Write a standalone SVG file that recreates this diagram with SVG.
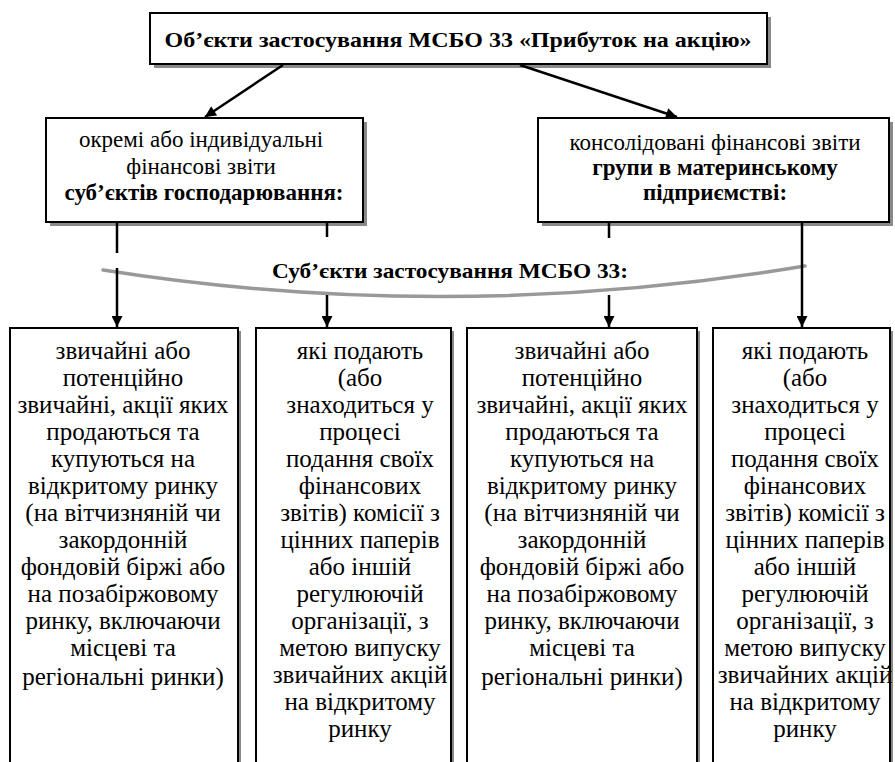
<svg xmlns="http://www.w3.org/2000/svg" width="895" height="762" viewBox="0 0 895 762">
<defs>
<style>
.box{fill:#fff;stroke:#000;stroke-width:2}
.sh{fill:#8a8a8a}
.t{font-family:"Liberation Serif","Tinos","DejaVu Serif",serif;fill:#000;text-anchor:middle}
.m{font-size:23px}
.s{font-size:25px}
.b{font-weight:bold}
.ln{stroke:#000;stroke-width:2.5;fill:none}
</style>
<marker id="ah" viewBox="0 0 10 10" refX="10" refY="5" markerWidth="5" markerHeight="4.4" markerUnits="strokeWidth" orient="auto">
<path d="M0,0 L10,5 L0,10 z" fill="#000"/>
</marker>
</defs>
<rect width="895" height="762" fill="#fff"/>

<g id="top">
<rect class="sh" x="154" y="17" width="617" height="51"/>
<rect class="box" x="150" y="13" width="617" height="51"/>
<text class="t b" x="458" y="47" style="font-size:22px" textLength="587" lengthAdjust="spacingAndGlyphs">Об’єкти застосування МСБО 33 «Прибуток на акцію»</text>
</g>

<g id="mid-left">
<rect class="sh" x="50" y="122" width="317" height="104"/>
<rect class="box" x="46" y="118" width="317" height="104"/>
<text class="t m" x="201" y="147">окремі або індивідуальні</text>
<text class="t m" x="201" y="174">фінансові звіти</text>
<text class="t m b" x="204" y="200">суб’єктів господарювання:</text>
</g>

<g id="mid-right">
<rect class="sh" x="542" y="122" width="351" height="104"/>
<rect class="box" x="538" y="118" width="351" height="104"/>
<text class="t m" x="715" y="150">консолідовані фінансові звіти</text>
<text class="t m b" x="715" y="175">групи в материнському</text>
<text class="t m b" x="715" y="200">підприємстві:</text>
</g>

<g id="banner">
<path d="M103,270 Q450,325 805,266" fill="none" stroke="#999" stroke-width="3.5" stroke-linecap="round"/>
<text class="t b" x="450" y="278" style="font-size:21px" textLength="356" lengthAdjust="spacingAndGlyphs">Суб’єкти застосування МСБО 33:</text>
</g>

<g id="box1">
<rect class="sh" x="13" y="331" width="228" height="440"/>
<rect class="box" x="10" y="328" width="228" height="440"/>
<text class="t s" x="123" y="359">звичайні або</text>
<text class="t s" x="123" y="386">потенційно</text>
<text class="t s" x="123" y="413">звичайні, акції яких</text>
<text class="t s" x="123" y="440">продаються та</text>
<text class="t s" x="123" y="467">купуються на</text>
<text class="t s" x="123" y="494">відкритому ринку</text>
<text class="t s" x="123" y="521">(на вітчизняній  чи</text>
<text class="t s" x="123" y="548">закордонній</text>
<text class="t s" x="123" y="575">фондовій біржі або</text>
<text class="t s" x="123" y="602">на позабіржовому</text>
<text class="t s" x="123" y="629">ринку, включаючи</text>
<text class="t s" x="123" y="656">місцеві та</text>
<text class="t s" x="123" y="685">регіональні ринки)</text>
</g>

<g id="box2">
<rect class="sh" x="259" y="331" width="195" height="440"/>
<rect class="box" x="256" y="328" width="195" height="440"/>
<text class="t s" x="360" y="359">які подають</text>
<text class="t s" x="360" y="386">(або</text>
<text class="t s" x="360" y="413">знаходиться у</text>
<text class="t s" x="360" y="440">процесі</text>
<text class="t s" x="360" y="467">подання своїх</text>
<text class="t s" x="360" y="494">фінансових</text>
<text class="t s" x="360" y="521">звітів) комісії з</text>
<text class="t s" x="360" y="548">цінних паперів</text>
<text class="t s" x="360" y="575">або іншій</text>
<text class="t s" x="360" y="602">регулюючій</text>
<text class="t s" x="360" y="629">організації, з</text>
<text class="t s" x="360" y="656">метою випуску</text>
<text class="t s" x="360" y="683">звичайних акцій</text>
<text class="t s" x="360" y="710">на відкритому</text>
<text class="t s" x="360" y="737">ринку</text>
</g>

<g id="box3">
<rect class="sh" x="470" y="331" width="230" height="440"/>
<rect class="box" x="467" y="328" width="230" height="440"/>
<text class="t s" x="582" y="359">звичайні або</text>
<text class="t s" x="582" y="386">потенційно</text>
<text class="t s" x="582" y="413">звичайні, акції яких</text>
<text class="t s" x="582" y="440">продаються та</text>
<text class="t s" x="582" y="467">купуються на</text>
<text class="t s" x="582" y="494">відкритому ринку</text>
<text class="t s" x="582" y="521">(на вітчизняній  чи</text>
<text class="t s" x="582" y="548">закордонній</text>
<text class="t s" x="582" y="575">фондовій біржі або</text>
<text class="t s" x="582" y="602">на позабіржовому</text>
<text class="t s" x="582" y="629">ринку, включаючи</text>
<text class="t s" x="582" y="656">місцеві та</text>
<text class="t s" x="582" y="685">регіональні ринки)</text>
</g>

<g id="box4">
<rect class="sh" x="716" y="331" width="177" height="440"/>
<rect class="box" x="713" y="328" width="177" height="440"/>
<text class="t s" x="805" y="359">які подають</text>
<text class="t s" x="805" y="386">(або</text>
<text class="t s" x="805" y="413">знаходиться у</text>
<text class="t s" x="805" y="440">процесі</text>
<text class="t s" x="805" y="467">подання своїх</text>
<text class="t s" x="805" y="494">фінансових</text>
<text class="t s" x="805" y="521">звітів) комісії з</text>
<text class="t s" x="805" y="548">цінних паперів</text>
<text class="t s" x="805" y="575">або іншій</text>
<text class="t s" x="805" y="602">регулюючій</text>
<text class="t s" x="805" y="629">організації, з</text>
<text class="t s" x="805" y="656">метою випуску</text>
<text class="t s" x="805" y="683">звичайних акцій</text>
<text class="t s" x="805" y="710">на відкритому</text>
<text class="t s" x="805" y="737">ринку</text>
</g>

<g id="connectors">
<line class="ln" x1="283" y1="65" x2="205" y2="117" marker-end="url(#ah)"/>
<line class="ln" x1="520" y1="65" x2="677" y2="117" marker-end="url(#ah)"/>
<line class="ln" x1="117" y1="223" x2="117" y2="253"/>
<line class="ln" x1="117" y1="268" x2="117" y2="327" marker-end="url(#ah)"/>
<line class="ln" x1="327" y1="223" x2="327" y2="237"/>
<line class="ln" x1="327" y1="295" x2="327" y2="327" marker-end="url(#ah)"/>
<line class="ln" x1="609" y1="223" x2="609" y2="238"/>
<line class="ln" x1="609" y1="295" x2="609" y2="327" marker-end="url(#ah)"/>
<line class="ln" x1="802" y1="223" x2="802" y2="327" marker-end="url(#ah)"/>
</g>
</svg>
